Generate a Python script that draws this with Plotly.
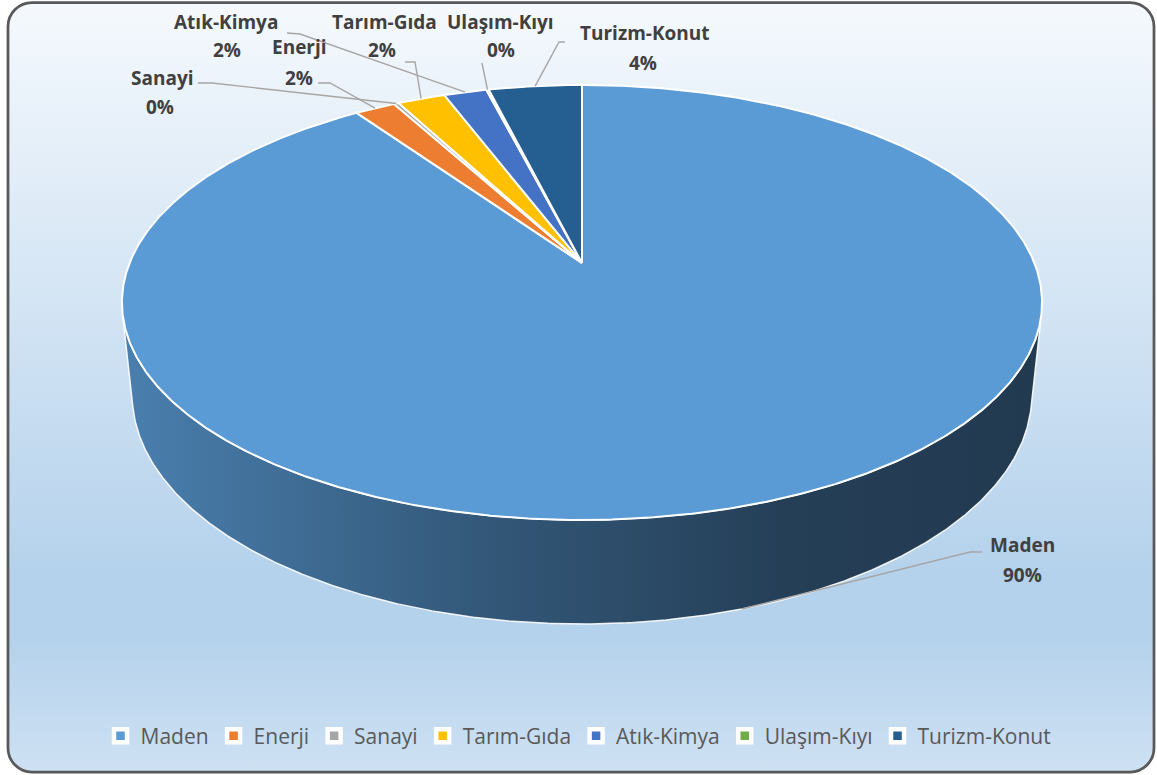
import base64
import numpy as np
import plotly.graph_objects as go

# ---------------- data ----------------
categories = ["Maden", "Enerji", "Sanayi", "Tarım-Gıda", "Atık-Kimya", "Ulaşım-Kıyı", "Turizm-Konut"]
values = [90.3, 1.7, 0.2, 2.0, 1.8, 0.1, 3.9]

# ---------------- styles / layout positions ----------------
colors = ["#5B9BD5", "#ED7D31", "#A5A5A5", "#FFC000", "#4472C4", "#70AD47", "#255E91"]
name_pos = [(1022, 545), (299, 47), (162, 78), (384, 22), (226, 22), (500, 22), (645, 33)]
pct_pos = [(1022, 575), (299, 78), (160, 107), (382, 50), (227, 50), (501, 50), (643, 63)]
lead_start = [(982, 552), (318, 83), (198, 83), (405, 62), (287, 33), (482, 63), (565, 42)]
lead_elbow = [(970, 552), (330, 83), (212, 83), (415, 62), (300, 34), (482, 63), (559, 42)]
side_shade = [[0.0, 0.82], [0.39, 0.57], [0.72, 0.41], [1.0, 0.38]]

W, H = 1157, 775
# 3D perspective camera for the pie
CX, CY = 582.0, 263.0
FOC = 2205.6
DIST = 4.875
BETA = np.arcsin(0.4649)
THICK = 0.2324


def proj(theta_deg, z):
    t = np.radians(np.asarray(theta_deg, dtype=float))
    x, y = np.cos(t), np.sin(t)
    zc = DIST + y * np.cos(BETA) - z * np.sin(BETA)
    yc = y * np.sin(BETA) + z * np.cos(BETA)
    return CX + FOC * x / zc, CY - FOC * yc / zc


def shade(hexcol, f):
    r, g, b = (int(hexcol[i:i + 2], 16) for i in (1, 3, 5))
    return "rgb(%d,%d,%d)" % (r * f, g * f, b * f)


total = float(sum(values))
cum = np.concatenate([[0.0], np.cumsum(values)])
starts = 90 - 360 * cum[:-1] / total
ends = 90 - 360 * cum[1:] / total
mids = (starts + ends) / 2

sin_thr = -1.0 / (DIST * np.cos(BETA))
a_vis = np.degrees(np.arcsin(-sin_thr))
vis_lo, vis_hi = -180 + a_vis, -a_vis

fig = go.Figure()

# side walls (visible front part)
for i, c in enumerate(colors):
    for k in (-1, 0, 1):
        lo = max(ends[i], vis_lo + 360 * k)
        hi = min(starts[i], vis_hi + 360 * k)
        if hi > lo:
            th = np.linspace(hi, lo, 400)
            tx, ty = proj(th, 0.0)
            bx, by = proj(th[::-1], -THICK)
            xs = np.concatenate([tx, bx, tx[:1]])
            ys = np.concatenate([ty, by, ty[:1]])
            fig.add_trace(go.Scatter(
                x=xs, y=ys, mode="lines", fill="toself",
                line=dict(color="rgba(255,255,255,0.9)", width=1.5),
                fillcolor=shade(c, 0.6),
                fillgradient=dict(type="horizontal",
                                  colorscale=[[p, shade(c, f)] for p, f in side_shade]),
                hoverinfo="skip", showlegend=False))

# top faces
for i, c in enumerate(colors):
    n = max(3, int(abs(starts[i] - ends[i]) * 3))
    th = np.linspace(starts[i], ends[i], n)
    tx, ty = proj(th, 0.0)
    xs = np.concatenate([[CX], tx, [CX]])
    ys = np.concatenate([[CY], ty, [CY]])
    fig.add_trace(go.Scatter(
        x=xs, y=ys, mode="lines", fill="toself", fillcolor=c,
        line=dict(color="white", width=2), hoverinfo="skip", showlegend=False))

# leader lines
for i in range(len(categories)):
    visible = np.sin(np.radians(mids[i])) < sin_thr
    ex, ey = proj(mids[i], -THICK if visible else 0.0)
    fig.add_trace(go.Scatter(
        x=[lead_start[i][0], lead_elbow[i][0], float(ex)],
        y=[lead_start[i][1], lead_elbow[i][1], float(ey)],
        mode="lines", line=dict(color="#A6A6A6", width=1.4),
        hoverinfo="skip", showlegend=False))

# legend entries
for i, c in enumerate(colors):
    fig.add_trace(go.Scatter(
        x=[None], y=[None], mode="markers", name=categories[i],
        marker=dict(symbol="square", size=13, color=c, line=dict(color="white", width=4.5))))

# data labels
for i, name in enumerate(categories):
    pct = "%d%%" % round(values[i] / total * 100)
    for txt, (px, py) in ((name, name_pos[i]), (pct, pct_pos[i])):
        fig.add_annotation(x=px, y=py, xref="x", yref="y", text=txt, showarrow=False,
                           xanchor="center", yanchor="middle",
                           font=dict(family="Open Sans", size=19, color="#404040", weight="bold"))

# background: rounded frame with vertical gradient
svg = (
    '<svg xmlns="http://www.w3.org/2000/svg" width="%d" height="%d" viewBox="0 0 %d %d" '
    'preserveAspectRatio="none"><defs><linearGradient id="g" x1="0" y1="0" x2="0" y2="1">'
    '<stop offset="0" stop-color="#F5F9FD"/><stop offset="0.74" stop-color="#B5D2EC"/>'
    '<stop offset="0.83" stop-color="#B5D2EC"/><stop offset="1" stop-color="#CEE1F3"/>'
    '</linearGradient></defs><rect x="8" y="2.5" width="1146" height="769.5" rx="24" ry="24" '
    'fill="url(#g)" stroke="#595959" stroke-width="2.75"/></svg>' % (W, H, W, H)
)
src = "data:image/svg+xml;base64," + base64.b64encode(svg.encode("utf-8")).decode("ascii")

fig.update_layout(
    width=W, height=H,
    margin=dict(l=0, r=0, t=0, b=0),
    paper_bgcolor="white",
    plot_bgcolor="rgba(0,0,0,0)",
    images=[dict(source=src, xref="paper", yref="paper", x=0, y=1, sizex=1, sizey=1,
                 sizing="stretch", layer="below", xanchor="left", yanchor="top")],
    xaxis=dict(range=[0, W], visible=False, fixedrange=True),
    yaxis=dict(range=[H, 0], visible=False, fixedrange=True),
    showlegend=True,
    legend=dict(orientation="h", x=0.5, xanchor="center", y=1 - 736 / H, yanchor="middle",
                bgcolor="rgba(0,0,0,0)", font=dict(family="Open Sans", size=21, color="#595959"),
                itemclick=False, itemdoubleclick=False, traceorder="normal"),
)

fig.write_html("out.html")
